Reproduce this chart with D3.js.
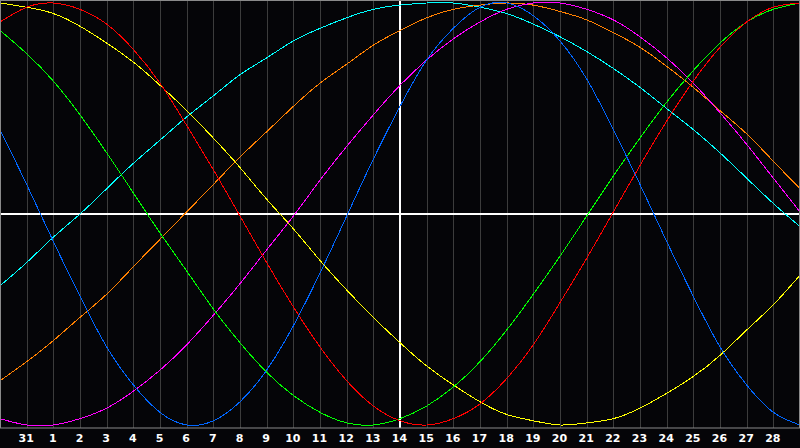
<!DOCTYPE html>
<html>
<head>
<meta charset="utf-8">
<script src="https://cdn.jsdelivr.net/npm/d3@7"></script>
<style>
  html, body { margin: 0; padding: 0; background: #050508; }
  svg { display: block; }
</style>
</head>
<body>
<svg id="chart" width="800" height="448"></svg>
<script>
// Day labels under the grid lines (day index 1..29)
const dayLabels = ["31","1","2","3","4","5","6","7","8","9","10","11","12","13","14",
  "15","16","17","18","19","20","21","22","23","24","25","26","27","28"];
const blueVals    = [0.40,0.14,-0.13,-0.39,-0.63,-0.81,-0.94,-1.00,-0.98,-0.89,-0.74,-0.53,-0.28,-0.01,0.26,0.51,0.73,0.88,0.98,1.00,0.94,0.82,0.64,0.40,0.14,-0.13,-0.39,-0.63,-0.81,-0.94,-1.00];
const redVals     = [0.91,0.98,1.00,0.97,0.90,0.78,0.62,0.42,0.21,-0.01,-0.23,-0.44,-0.63,-0.79,-0.91,-0.98,-1.00,-0.97,-0.90,-0.78,-0.62,-0.42,-0.21,0.01,0.23,0.44,0.63,0.79,0.91,0.98,1.00];
const greenVals   = [0.87,0.76,0.63,0.47,0.29,0.10,-0.09,-0.27,-0.45,-0.61,-0.75,-0.86,-0.94,-0.99,-1.00,-0.97,-0.91,-0.82,-0.70,-0.55,-0.38,-0.20,-0.01,0.18,0.36,0.53,0.68,0.81,0.91,0.97,1.00];
const magentaVals = [-0.97,-1.00,-1.00,-0.97,-0.92,-0.84,-0.74,-0.62,-0.48,-0.33,-0.17,-0.01,0.16,0.32,0.47,0.61,0.73,0.83,0.91,0.97,1.00,1.00,0.97,0.92,0.84,0.74,0.62,0.48,0.33,0.17,0.01];
const yellowVals  = [1.00,0.98,0.95,0.89,0.81,0.72,0.61,0.49,0.36,0.22,0.07,-0.07,-0.22,-0.36,-0.49,-0.61,-0.72,-0.81,-0.89,-0.95,-0.98,-1.00,-0.99,-0.97,-0.92,-0.85,-0.77,-0.67,-0.55,-0.43,-0.29];
const orangeVals  = [-0.79,-0.70,-0.60,-0.49,-0.38,-0.25,-0.12,0.01,0.14,0.27,0.39,0.51,0.62,0.71,0.80,0.87,0.93,0.97,0.99,1.00,0.99,0.96,0.92,0.86,0.79,0.70,0.60,0.49,0.38,0.25,0.12];
const cyanVals    = [-0.34,-0.23,-0.11,0.00,0.12,0.24,0.35,0.46,0.56,0.66,0.74,0.82,0.88,0.93,0.97,0.99,1.00,1.00,0.98,0.95,0.90,0.84,0.77,0.69,0.60,0.50,0.40,0.29,0.17,0.05,-0.06];

const seriesList = [
  {vals: cyanVals,    color: "#00ffff"},
  {vals: orangeVals,  color: "#ff8000"},
  {vals: yellowVals,  color: "#ffff00"},
  {vals: magentaVals, color: "#ff00ff"},
  {vals: greenVals,   color: "#00ff00"},
  {vals: redVals,     color: "#ff0000"},
  {vals: blueVals,    color: "#0066ff"}
];

const W = 800, plotH = 428;
const svg = d3.select("#chart");
const x = d3.scaleLinear().domain([0, 30]).range([0, W]);
const y = d3.scaleLinear().domain([-1, 1]).range([425, 3]);

svg.append("rect").attr("x",0).attr("y",0).attr("width",W).attr("height",448).attr("fill","#050508");

// vertical grid lines
const gridDays = d3.range(1, 30);
svg.append("g").selectAll("line").data(gridDays).join("line")
  .attr("x1", d => Math.round(x(d)) + 0.5).attr("x2", d => Math.round(x(d)) + 0.5)
  .attr("y1", 0).attr("y2", plotH)
  .attr("stroke", "#3c3c3c").attr("stroke-width", 1);

// center cross lines
svg.append("line").attr("x1", 0).attr("x2", W).attr("y1", y(0)).attr("y2", y(0))
  .attr("stroke", "#ffffff").attr("stroke-width", 2);
svg.append("line").attr("x1", x(15)).attr("x2", x(15)).attr("y1", 0).attr("y2", plotH)
  .attr("stroke", "#ffffff").attr("stroke-width", 2);

// curves
const line = d3.line().x((d, i) => x(i)).y(d => y(d)).curve(d3.curveNatural);
svg.append("g").selectAll("path").data(seriesList).join("path")
  .attr("d", d => line(d.vals))
  .attr("fill", "none")
  .attr("stroke", d => d.color)
  .attr("stroke-width", 1)
  .attr("shape-rendering", "crispEdges");

// border
svg.append("rect").attr("x", 0.5).attr("y", 0.5).attr("width", W - 1).attr("height", plotH - 0.5)
  .attr("fill", "none").attr("stroke", "#8a8a8a").attr("stroke-width", 1);

// bottom labels via axis
const axis = d3.axisBottom(x).tickValues(gridDays).tickSize(0).tickPadding(0)
  .tickFormat((d, i) => dayLabels[i]);
const gAxis = svg.append("g").attr("transform", `translate(0, ${plotH + 6})`).call(axis);
gAxis.select(".domain").remove();
gAxis.selectAll("text")
  .attr("fill", "#ffffff")
  .attr("font-family", "DejaVu Sans, Verdana, sans-serif")
  .attr("font-weight", "bold")
  .attr("font-size", "11px")
  .attr("dx", "-1");
</script>
</body>
</html>
